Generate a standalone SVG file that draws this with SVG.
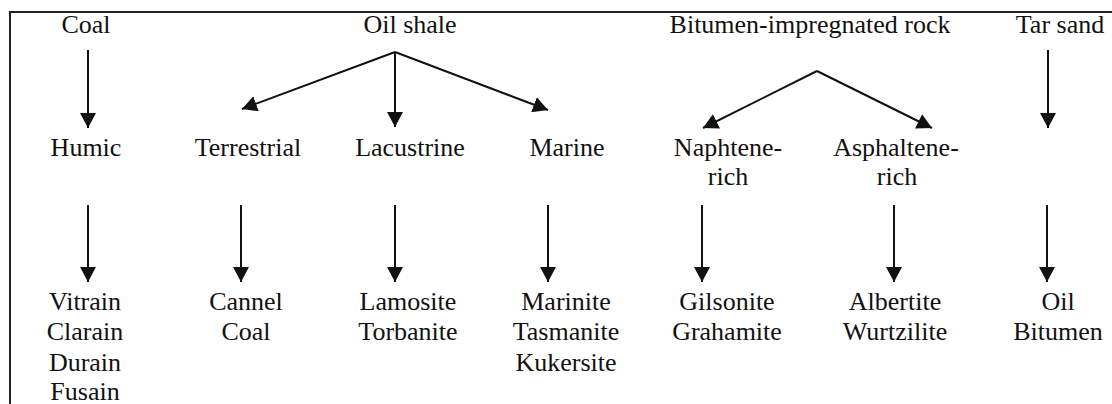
<svg xmlns="http://www.w3.org/2000/svg" width="1112" height="404" viewBox="0 0 1112 404">
<style>
.t text{font-family:'Times New Roman',Times,'Liberation Serif',Tinos,'DejaVu Serif',serif;font-size:26px;fill:#111;text-anchor:middle}
.c line{stroke:#111;stroke-width:2;marker-end:url(#ah)}
.frame{stroke:#222;stroke-width:2;fill:none}
</style>
<defs>
<marker id="ah" markerUnits="userSpaceOnUse" viewBox="0 0 15 16" refX="15" refY="8" markerWidth="15" markerHeight="16" orient="auto">
<path d="M0,0 L15,8 L0,16 Z" fill="#111"/>
</marker>
</defs>
<rect width="1112" height="404" fill="#fff"/>
<path class="frame" d="M1112,12 H10 V404"/>
<g class="t">
<g id="coal"><text x="86" y="33">Coal</text></g>
<g id="oilshale"><text x="410" y="33">Oil shale</text></g>
<g id="bitumen-rock"><text x="810" y="33">Bitumen-impregnated rock</text></g>
<g id="tarsand"><text x="1060" y="33">Tar sand</text></g>
<g id="humic"><text x="86" y="156">Humic</text></g>
<g id="terrestrial"><text x="248" y="156">Terrestrial</text></g>
<g id="lacustrine"><text x="410" y="156">Lacustrine</text></g>
<g id="marine"><text x="567" y="156">Marine</text></g>
<g id="naphtene"><text x="728" y="156">Naphtene-</text><text x="728" y="185">rich</text></g>
<g id="asphaltene"><text x="896" y="156">Asphaltene-</text><text x="897" y="185">rich</text></g>
<g id="humic-types"><text x="85" y="310">Vitrain</text><text x="85" y="340">Clarain</text><text x="85" y="371">Durain</text><text x="85" y="400">Fusain</text></g>
<g id="cannel"><text x="246" y="310">Cannel</text><text x="246" y="340">Coal</text></g>
<g id="lamosite"><text x="408" y="310">Lamosite</text><text x="408" y="340">Torbanite</text></g>
<g id="marinite"><text x="566" y="310">Marinite</text><text x="566" y="340">Tasmanite</text><text x="566" y="371">Kukersite</text></g>
<g id="gilsonite"><text x="727" y="310">Gilsonite</text><text x="727" y="340">Grahamite</text></g>
<g id="albertite"><text x="895" y="310">Albertite</text><text x="895" y="340">Wurtzilite</text></g>
<g id="oilbitumen"><text x="1058" y="310">Oil</text><text x="1058" y="340">Bitumen</text></g>
</g>
<g class="c" id="connectors">
<line x1="88" y1="50" x2="88" y2="128"/>
<line x1="395" y1="52" x2="242" y2="109"/>
<line x1="395" y1="52" x2="395" y2="127"/>
<line x1="395" y1="52" x2="548" y2="110"/>
<line x1="817" y1="71" x2="703" y2="128"/>
<line x1="817" y1="71" x2="932" y2="128"/>
<line x1="1048" y1="50" x2="1048" y2="128"/>
<line x1="88" y1="205" x2="88" y2="282"/>
<line x1="241" y1="205" x2="241" y2="282"/>
<line x1="395" y1="205" x2="395" y2="282"/>
<line x1="548" y1="205" x2="548" y2="282"/>
<line x1="702" y1="205" x2="702" y2="282"/>
<line x1="894" y1="205" x2="894" y2="282"/>
<line x1="1047" y1="205" x2="1047" y2="282"/>
</g>
</svg>
